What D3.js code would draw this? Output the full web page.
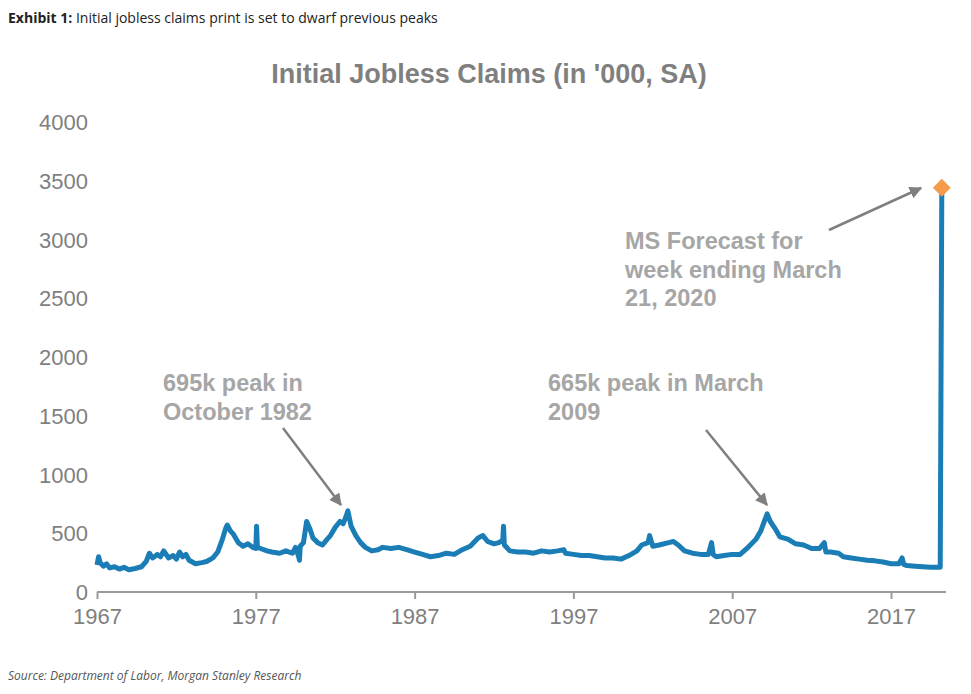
<!DOCTYPE html>
<html lang="en">
<head>
<meta charset="UTF-8">
<title>Initial Jobless Claims</title>
<style>
  body { margin: 0; background: #fff; font-family: "Liberation Sans", Arial, sans-serif; }
  .head { font-family: "Open Sans", "Liberation Sans", sans-serif; }
</style>
</head>
<body>
<svg id="chart" width="971" height="694"></svg>
<script src="https://d3js.org/d3.v7.min.js"></script>
<script>
// year (decimal) and claims in '000
const years = [1967.0,1967.1,1967.2,1967.4,1967.6,1967.8,1968.1,1968.4,1968.7,1969.0,1969.4,1969.8,1970.1,1970.3,1970.5,1970.8,1971.0,1971.2,1971.5,1971.8,1972.0,1972.2,1972.4,1972.6,1972.8,1973.2,1973.6,1973.9,1974.3,1974.6,1974.9,1975.1,1975.2,1975.4,1975.6,1975.9,1976.2,1976.5,1976.8,1977.0,1977.05,1977.1,1977.3,1977.7,1978.0,1978.5,1978.9,1979.3,1979.5,1979.7,1979.75,1979.8,1980.0,1980.2,1980.4,1980.6,1980.9,1981.2,1981.5,1981.7,1982.0,1982.3,1982.5,1982.7,1982.8,1983.0,1983.3,1983.6,1983.9,1984.3,1984.7,1985.0,1985.5,1986.0,1986.5,1987.0,1987.5,1988.0,1988.5,1989.0,1989.5,1990.0,1990.5,1991.0,1991.3,1991.6,1992.0,1992.3,1992.55,1992.6,1992.65,1993.0,1993.5,1994.0,1994.5,1995.0,1995.5,1996.0,1996.4,1996.5,1997.0,1997.5,1998.0,1998.5,1999.0,1999.5,2000.0,2000.5,2001.0,2001.3,2001.7,2001.8,2002.0,2002.4,2003.0,2003.3,2003.6,2004.0,2004.5,2005.0,2005.5,2005.7,2005.8,2006.0,2006.5,2007.0,2007.5,2008.0,2008.5,2008.8,2009.2,2009.4,2009.7,2010.0,2010.5,2011.0,2011.5,2012.0,2012.5,2012.8,2012.9,2013.2,2013.7,2014.0,2014.5,2015.0,2015.5,2016.0,2016.5,2017.0,2017.5,2017.7,2017.8,2018.0,2018.5,2019.0,2019.5,2020.1,2020.2];
const claims = [230,300,250,220,240,205,215,195,210,190,200,215,260,330,290,320,300,350,290,310,280,340,300,320,270,240,250,260,290,340,450,540,570,520,490,420,390,410,380,370,560,380,370,350,340,330,350,330,380,300,270,390,420,600,540,460,420,400,450,480,550,600,580,650,690,560,480,420,380,350,360,380,370,380,360,340,320,300,310,330,320,360,390,460,480,430,410,420,440,560,400,350,340,340,330,350,340,350,360,330,320,310,310,300,290,290,280,310,350,400,420,480,390,400,420,430,400,350,330,320,320,420,320,300,310,320,320,380,450,520,665,600,540,470,450,410,400,370,370,420,340,340,330,300,290,280,270,265,255,240,240,290,235,225,220,215,210,210,3440];
const xTicks = [1967,1977,1987,1997,2007,2017];
const yTicks = [0,500,1000,1500,2000,2500,3000,3500,4000];

const svg = d3.select("#chart");
const x = d3.scaleLinear().domain([1967, 2017]).range([97, 891]);
const y = d3.scaleLinear().domain([0, 4000]).range([592, 122]);
const grey = "#7f7f7f";

svg.append("text").attr("class", "head").attr("x", 8).attr("y", 23).attr("font-size", 14).attr("fill", "#222")
  .html('<tspan font-weight="bold">Exhibit 1:</tspan> Initial jobless claims print is set to dwarf previous peaks');

svg.append("text").attr("x", 489).attr("y", 83).attr("text-anchor", "middle")
  .attr("font-size", 27).attr("font-weight", "bold").attr("fill", grey)
  .text("Initial Jobless Claims (in '000, SA)");

// y labels
svg.selectAll(".yl").data(yTicks).enter().append("text")
  .attr("x", 88).attr("y", d => y(d) + 8).attr("text-anchor", "end")
  .attr("font-size", 22).attr("fill", grey).text(d => d);

// x axis
const xa = svg.append("g").attr("transform", "translate(0,592)")
  .call(d3.axisBottom(x).tickValues(xTicks).tickFormat(d3.format("d")).tickSize(7).tickSizeOuter(0));
xa.select(".domain").attr("d", "M97,0H946").attr("stroke", "#9a9a9a").attr("stroke-width", 2);
xa.selectAll(".tick line").attr("stroke", "#9a9a9a").attr("stroke-width", 2);
xa.selectAll(".tick text").attr("font-size", 22).attr("fill", grey).attr("font-family", "Liberation Sans, Arial").attr("dy", "1.0em");

// line
const pts = years.map((d, i) => [d, claims[i]]);
svg.append("path").datum(pts)
  .attr("fill", "none").attr("stroke", "#1a7db5").attr("stroke-width", 5).attr("stroke-linejoin", "round")
  .attr("d", d3.line().x(d => x(d[0])).y(d => y(d[1])));

const last = pts[pts.length - 1];
svg.append("path").attr("d", d3.symbol(d3.symbolSquare, 160)())
  .attr("transform", `translate(${x(last[0])},${y(last[1])}) rotate(45)`).attr("fill", "#f29c4c");

// annotations
svg.append("defs").append("marker").attr("id", "ah").attr("viewBox", "0 0 10 10").attr("refX", 9).attr("refY", 5)
  .attr("markerWidth", 5).attr("markerHeight", 5).attr("orient", "auto")
  .append("path").attr("d", "M0,0L10,5L0,10z").attr("fill", grey);
const arrows = [[283,428,341,505],[706,430,767,505],[829,230,921,188]];
arrows.forEach(a => svg.append("line").attr("x1", a[0]).attr("y1", a[1]).attr("x2", a[2]).attr("y2", a[3])
  .attr("stroke", grey).attr("stroke-width", 2.5).attr("marker-end", "url(#ah)"));

const notes = [
  [163, 391, ["695k peak in", "October 1982"]],
  [548, 391, ["665k peak in March", "2009"]],
  [625, 249, ["MS Forecast for", "week ending March", "21, 2020"]]
];
notes.forEach(n => {
  const t = svg.append("text").attr("x", n[0]).attr("y", n[1]).attr("font-size", 23.5).attr("font-weight", "bold").attr("fill", "#a6a6a6");
  n[2].forEach((s, i) => t.append("tspan").attr("x", n[0]).attr("dy", i ? 28.5 : 0).text(s));
});

svg.append("text").attr("class", "head").attr("x", 8).attr("y", 680).attr("font-size", 12).attr("font-style", "italic").attr("fill", "#555")
  .text("Source: Department of Labor, Morgan Stanley Research");
</script>
</body>
</html>
